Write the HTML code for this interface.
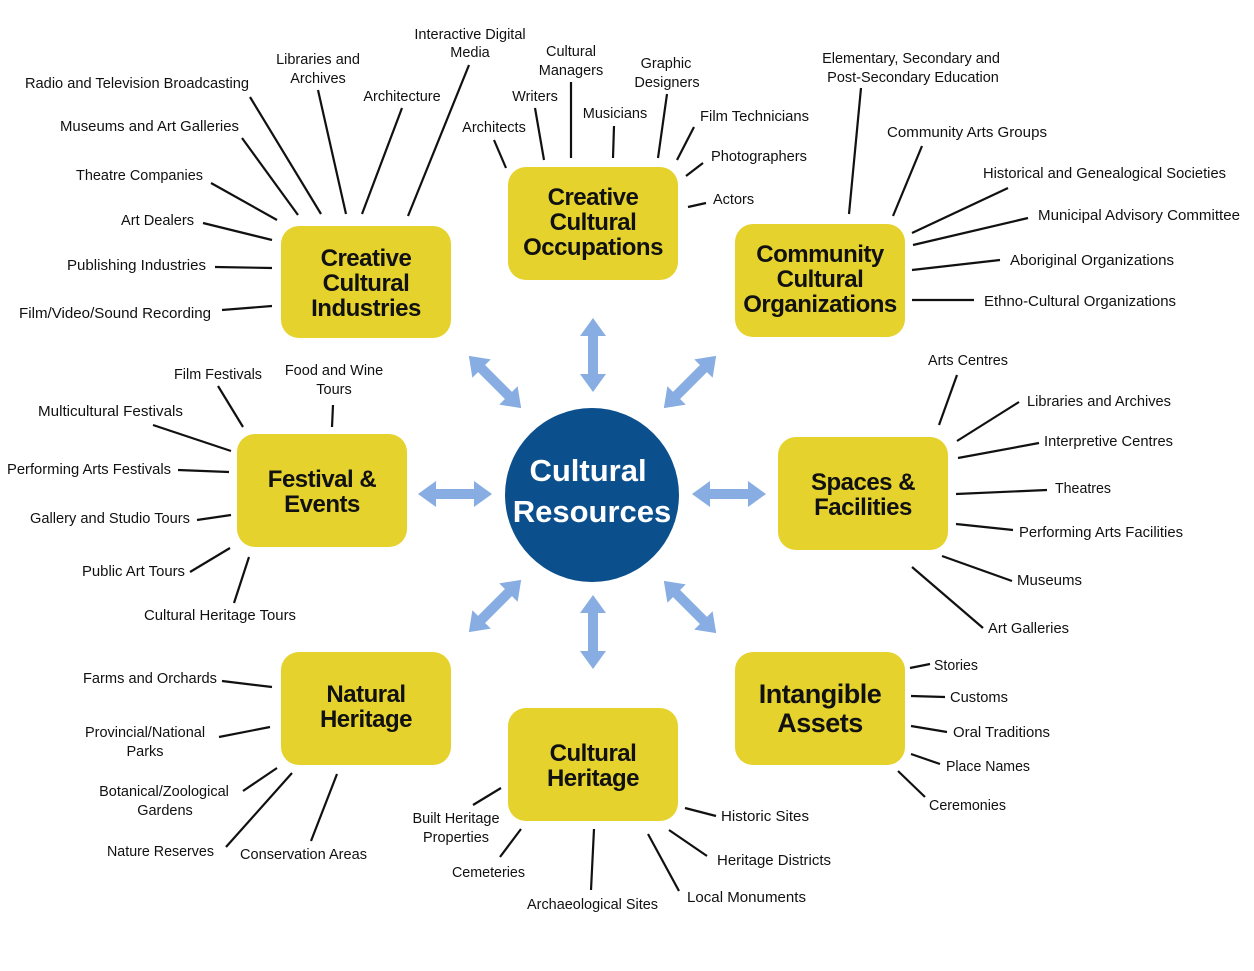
<!DOCTYPE html>
<html><head><meta charset="utf-8"><style>
html,body{margin:0;padding:0;background:#fff;}
svg{display:block;}
.l{font-family:"Liberation Sans",sans-serif;font-size:14.5px;fill:#111;}
.b{font-family:"Liberation Sans",sans-serif;font-size:24px;font-weight:bold;fill:#111;text-anchor:middle;letter-spacing:-0.5px;}
.c{font-family:"Liberation Sans",sans-serif;font-size:31px;font-weight:bold;fill:#fff;text-anchor:middle;}
.m{text-anchor:middle;}
line{stroke:#111;stroke-width:2.2;}
.box{fill:#e5d22d;}
.ar{fill:#88ade2;}
</style></head><body>
<svg width="1254" height="971" viewBox="0 0 1254 971" xmlns="http://www.w3.org/2000/svg">
<defs>
<polygon id="da" points="-37,0 -19,-13 -19,-5 19,-5 19,-13 37,0 19,13 19,5 -19,5 -19,13"/>
</defs>
<use href="#da" class="ar" transform="translate(593,355) rotate(90)"/>
<use href="#da" class="ar" transform="translate(593,632) rotate(90)"/>
<use href="#da" class="ar" transform="translate(455,494)"/>
<use href="#da" class="ar" transform="translate(729,494)"/>
<use href="#da" class="ar" transform="translate(495,382) rotate(45)"/>
<use href="#da" class="ar" transform="translate(690,382) rotate(-45)"/>
<use href="#da" class="ar" transform="translate(495,606) rotate(-45)"/>
<use href="#da" class="ar" transform="translate(690,607) rotate(45)"/>

<circle cx="592" cy="495" r="87" fill="#0b4f8d"/>
<text class="c" x="588" y="481">Cultural</text>
<text class="c" x="592" y="522">Resources</text>

<rect class="box" x="281" y="226" width="170" height="112" rx="18"/>
<rect class="box" x="508" y="167" width="170" height="113" rx="18"/>
<rect class="box" x="735" y="224" width="170" height="113" rx="18"/>
<rect class="box" x="237" y="434" width="170" height="113" rx="18"/>
<rect class="box" x="778" y="437" width="170" height="113" rx="18"/>
<rect class="box" x="281" y="652" width="170" height="113" rx="18"/>
<rect class="box" x="508" y="708" width="170" height="113" rx="18"/>
<rect class="box" x="735" y="652" width="170" height="113" rx="18"/>

<text class="b" x="366" y="266">Creative</text>
<text class="b" x="366" y="291">Cultural</text>
<text class="b" x="366" y="316">Industries</text>
<text class="b" x="593" y="205">Creative</text>
<text class="b" x="593" y="230">Cultural</text>
<text class="b" x="593" y="255">Occupations</text>
<text class="b" x="820" y="262">Community</text>
<text class="b" x="820" y="287">Cultural</text>
<text class="b" x="820" y="312">Organizations</text>
<text class="b" x="322" y="487">Festival &amp;</text>
<text class="b" x="322" y="512">Events</text>
<text class="b" x="863" y="490">Spaces &amp;</text>
<text class="b" x="863" y="515">Facilities</text>
<text class="b" x="366" y="702">Natural</text>
<text class="b" x="366" y="727">Heritage</text>
<text class="b" x="593" y="761">Cultural</text>
<text class="b" x="593" y="786">Heritage</text>
<text class="b" x="820" y="703" style="font-size:27px">Intangible</text>
<text class="b" x="820" y="732" style="font-size:27px">Assets</text>

<line x1="250" y1="97" x2="321" y2="214"/>
<line x1="242" y1="138" x2="298" y2="215"/>
<line x1="318" y1="90" x2="346" y2="214"/>
<line x1="402" y1="108" x2="362" y2="214"/>
<line x1="469" y1="65" x2="408" y2="216"/>
<line x1="211" y1="183" x2="277" y2="220"/>
<line x1="203" y1="223" x2="272" y2="240"/>
<line x1="215" y1="267" x2="272" y2="268"/>
<line x1="222" y1="310" x2="272" y2="306"/>
<text class="l" x="25" y="88" textLength="224" lengthAdjust="spacingAndGlyphs">Radio and Television Broadcasting</text>
<text class="l m" x="318" y="64">Libraries and</text>
<text class="l m" x="318" y="83">Archives</text>
<text class="l m" x="470" y="39">Interactive Digital</text>
<text class="l m" x="470" y="57">Media</text>
<text class="l m" x="402" y="101">Architecture</text>
<text class="l" x="60" y="131" textLength="179" lengthAdjust="spacingAndGlyphs">Museums and Art Galleries</text>
<text class="l" x="76" y="180" textLength="127" lengthAdjust="spacingAndGlyphs">Theatre Companies</text>
<text class="l" x="121" y="225" textLength="73" lengthAdjust="spacingAndGlyphs">Art Dealers</text>
<text class="l" x="67" y="270" textLength="139" lengthAdjust="spacingAndGlyphs">Publishing Industries</text>
<text class="l" x="19" y="318" textLength="192" lengthAdjust="spacingAndGlyphs">Film/Video/Sound Recording</text>

<line x1="494" y1="140" x2="506" y2="168"/>
<line x1="535" y1="108" x2="544" y2="160"/>
<line x1="571" y1="82" x2="571" y2="158"/>
<line x1="614" y1="126" x2="613" y2="158"/>
<line x1="667" y1="94" x2="658" y2="158"/>
<line x1="694" y1="127" x2="677" y2="160"/>
<line x1="703" y1="163" x2="686" y2="176"/>
<line x1="706" y1="203" x2="688" y2="207"/>
<text class="l m" x="494" y="132">Architects</text>
<text class="l m" x="535" y="101">Writers</text>
<text class="l m" x="571" y="56">Cultural</text>
<text class="l m" x="571" y="75">Managers</text>
<text class="l m" x="615" y="118">Musicians</text>
<text class="l m" x="666" y="68">Graphic</text>
<text class="l m" x="667" y="87">Designers</text>
<text class="l" x="700" y="121" textLength="109" lengthAdjust="spacingAndGlyphs">Film Technicians</text>
<text class="l" x="711" y="161" textLength="96" lengthAdjust="spacingAndGlyphs">Photographers</text>
<text class="l" x="713" y="204">Actors</text>

<line x1="861" y1="88" x2="849" y2="214"/>
<line x1="922" y1="146" x2="893" y2="216"/>
<line x1="1008" y1="188" x2="912" y2="233"/>
<line x1="1028" y1="218" x2="913" y2="245"/>
<line x1="1000" y1="260" x2="912" y2="270"/>
<line x1="974" y1="300" x2="912" y2="300"/>
<text class="l m" x="911" y="63">Elementary, Secondary and</text>
<text class="l m" x="913" y="82">Post-Secondary Education</text>
<text class="l" x="887" y="137" textLength="160" lengthAdjust="spacingAndGlyphs">Community Arts Groups</text>
<text class="l" x="983" y="178" textLength="243" lengthAdjust="spacingAndGlyphs">Historical and Genealogical Societies</text>
<text class="l" x="1038" y="220" textLength="202" lengthAdjust="spacingAndGlyphs">Municipal Advisory Committee</text>
<text class="l" x="1010" y="265" textLength="164" lengthAdjust="spacingAndGlyphs">Aboriginal Organizations</text>
<text class="l" x="984" y="306" textLength="192" lengthAdjust="spacingAndGlyphs">Ethno-Cultural Organizations</text>

<line x1="957" y1="375" x2="939" y2="425"/>
<line x1="1019" y1="402" x2="957" y2="441"/>
<line x1="1039" y1="443" x2="958" y2="458"/>
<line x1="1047" y1="490" x2="956" y2="494"/>
<line x1="1013" y1="530" x2="956" y2="524"/>
<line x1="1012" y1="581" x2="942" y2="556"/>
<line x1="983" y1="628" x2="912" y2="567"/>
<text class="l" x="928" y="365" textLength="80" lengthAdjust="spacingAndGlyphs">Arts Centres</text>
<text class="l" x="1027" y="406" textLength="144" lengthAdjust="spacingAndGlyphs">Libraries and Archives</text>
<text class="l" x="1044" y="446" textLength="129" lengthAdjust="spacingAndGlyphs">Interpretive Centres</text>
<text class="l" x="1055" y="493" textLength="56" lengthAdjust="spacingAndGlyphs">Theatres</text>
<text class="l" x="1019" y="537" textLength="164" lengthAdjust="spacingAndGlyphs">Performing Arts Facilities</text>
<text class="l" x="1017" y="585" textLength="65" lengthAdjust="spacingAndGlyphs">Museums</text>
<text class="l" x="988" y="633" textLength="81" lengthAdjust="spacingAndGlyphs">Art Galleries</text>

<line x1="218" y1="386" x2="243" y2="427"/>
<line x1="333" y1="405" x2="332" y2="427"/>
<line x1="153" y1="425" x2="231" y2="451"/>
<line x1="178" y1="470" x2="229" y2="472"/>
<line x1="197" y1="520" x2="231" y2="515"/>
<line x1="190" y1="572" x2="230" y2="548"/>
<line x1="234" y1="603" x2="249" y2="557"/>
<text class="l" x="174" y="379" textLength="88" lengthAdjust="spacingAndGlyphs">Film Festivals</text>
<text class="l m" x="334" y="375">Food and Wine</text>
<text class="l m" x="334" y="394">Tours</text>
<text class="l" x="38" y="416" textLength="145" lengthAdjust="spacingAndGlyphs">Multicultural Festivals</text>
<text class="l" x="7" y="474" textLength="164" lengthAdjust="spacingAndGlyphs">Performing Arts Festivals</text>
<text class="l" x="30" y="523" textLength="160" lengthAdjust="spacingAndGlyphs">Gallery and Studio Tours</text>
<text class="l" x="82" y="576" textLength="103" lengthAdjust="spacingAndGlyphs">Public Art Tours</text>
<text class="l" x="144" y="620" textLength="152" lengthAdjust="spacingAndGlyphs">Cultural Heritage Tours</text>

<line x1="222" y1="681" x2="272" y2="687"/>
<line x1="219" y1="737" x2="270" y2="727"/>
<line x1="243" y1="791" x2="277" y2="768"/>
<line x1="226" y1="847" x2="292" y2="773"/>
<line x1="311" y1="841" x2="337" y2="774"/>
<text class="l" x="83" y="683" textLength="134" lengthAdjust="spacingAndGlyphs">Farms and Orchards</text>
<text class="l m" x="145" y="737">Provincial/National</text>
<text class="l m" x="145" y="756">Parks</text>
<text class="l m" x="164" y="796">Botanical/Zoological</text>
<text class="l m" x="165" y="815">Gardens</text>
<text class="l" x="107" y="856" textLength="107" lengthAdjust="spacingAndGlyphs">Nature Reserves</text>
<text class="l" x="240" y="859" textLength="127" lengthAdjust="spacingAndGlyphs">Conservation Areas</text>

<line x1="473" y1="805" x2="501" y2="788"/>
<line x1="500" y1="857" x2="521" y2="829"/>
<line x1="591" y1="890" x2="594" y2="829"/>
<line x1="679" y1="891" x2="648" y2="834"/>
<line x1="707" y1="856" x2="669" y2="830"/>
<line x1="716" y1="816" x2="685" y2="808"/>
<text class="l m" x="456" y="823">Built Heritage</text>
<text class="l m" x="456" y="842">Properties</text>
<text class="l" x="452" y="877" textLength="73" lengthAdjust="spacingAndGlyphs">Cemeteries</text>
<text class="l" x="527" y="909" textLength="131" lengthAdjust="spacingAndGlyphs">Archaeological Sites</text>
<text class="l" x="687" y="902" textLength="119" lengthAdjust="spacingAndGlyphs">Local Monuments</text>
<text class="l" x="717" y="865" textLength="114" lengthAdjust="spacingAndGlyphs">Heritage Districts</text>
<text class="l" x="721" y="821" textLength="88" lengthAdjust="spacingAndGlyphs">Historic Sites</text>

<line x1="930" y1="664" x2="910" y2="668"/>
<line x1="945" y1="697" x2="911" y2="696"/>
<line x1="947" y1="732" x2="911" y2="726"/>
<line x1="940" y1="764" x2="911" y2="754"/>
<line x1="925" y1="797" x2="898" y2="771"/>
<text class="l" x="934" y="670" textLength="44" lengthAdjust="spacingAndGlyphs">Stories</text>
<text class="l" x="950" y="702" textLength="58" lengthAdjust="spacingAndGlyphs">Customs</text>
<text class="l" x="953" y="737" textLength="97" lengthAdjust="spacingAndGlyphs">Oral Traditions</text>
<text class="l" x="946" y="771" textLength="84" lengthAdjust="spacingAndGlyphs">Place Names</text>
<text class="l" x="929" y="810" textLength="77" lengthAdjust="spacingAndGlyphs">Ceremonies</text>
</svg>
</body></html>
